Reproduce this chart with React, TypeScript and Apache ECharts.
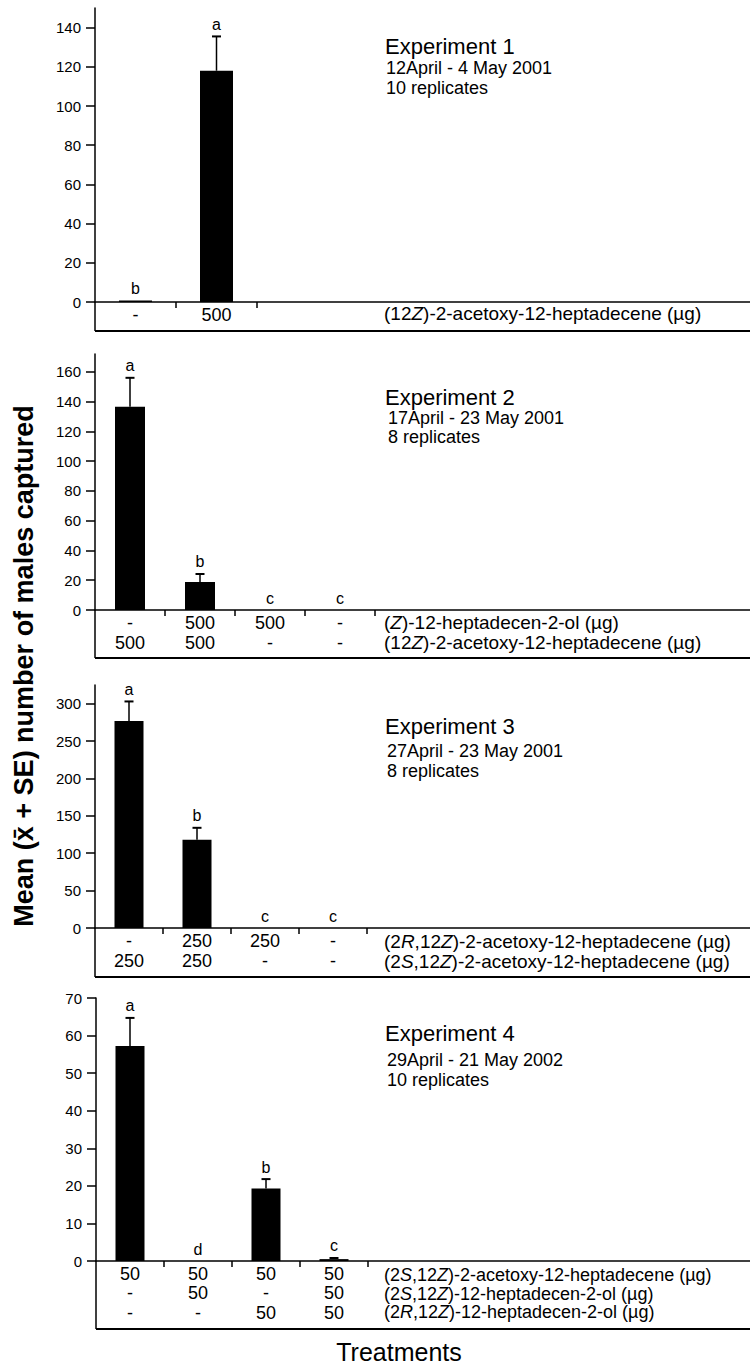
import React, { useEffect, useRef } from "react";
import * as echarts from "echarts";

// ---------- data ----------
const expTitles = ["Experiment 1", "Experiment 2", "Experiment 3", "Experiment 4"];
const expDates = ["12April - 4 May 2001", "17April - 23 May 2001", "27April - 23 May 2001", "29April - 21 May 2002"];
const expReps = ["10 replicates", "8 replicates", "8 replicates", "10 replicates"];

const exp1Means = [0.8, 118];
const exp1SE = [0, 17.5];
const exp1Letters = ["b", "a"];
const exp1Doses = [["-", "500"]];
const exp1Compounds = ["(12Z)-2-acetoxy-12-heptadecene (µg)"];

const exp2Means = [136.5, 18.8, 0, 0];
const exp2SE = [19.5, 5.4, 0, 0];
const exp2Letters = ["a", "b", "c", "c"];
const exp2Doses = [["-", "500", "500", "-"], ["500", "500", "-", "-"]];
const exp2Compounds = ["(Z)-12-heptadecen-2-ol (µg)", "(12Z)-2-acetoxy-12-heptadecene (µg)"];

const exp3Means = [277, 118, 0, 0];
const exp3SE = [26, 16, 0, 0];
const exp3Letters = ["a", "b", "c", "c"];
const exp3Doses = [["-", "250", "250", "-"], ["250", "250", "-", "-"]];
const exp3Compounds = ["(2R,12Z)-2-acetoxy-12-heptadecene (µg)", "(2S,12Z)-2-acetoxy-12-heptadecene (µg)"];

const exp4Means = [57.2, 0, 19.3, 0.5];
const exp4SE = [7.5, 0, 2.5, 0.3];
const exp4Letters = ["a", "d", "b", "c"];
const exp4Doses = [["50", "50", "50", "50"], ["-", "50", "-", "50"], ["-", "-", "50", "50"]];
const exp4Compounds = [
  "(2S,12Z)-2-acetoxy-12-heptadecene (µg)",
  "(2S,12Z)-12-heptadecen-2-ol (µg)",
  "(2R,12Z)-12-heptadecen-2-ol (µg)",
];

const yMaxes = [150, 172, 325, 70];
const yTicks = [
  [0, 20, 40, 60, 80, 100, 120, 140],
  [0, 20, 40, 60, 80, 100, 120, 140, 160],
  [0, 50, 100, 150, 200, 250, 300],
  [0, 10, 20, 30, 40, 50, 60, 70],
];
const yTitle = "Mean (x\u0304 + SE) number of males captured";
const xTitle = "Treatments";

// ---------- layout ----------
const FONT = "'Liberation Sans', Arial, Helvetica, sans-serif";
const W = 750;
const panels = [
  { means: exp1Means, se: exp1SE, letters: exp1Letters, doses: exp1Doses, compounds: exp1Compounds,
    left: 95, top: 8, height: 294, catW: 81, barW: 33, boxBottom: 331, rowH: 20, compFont: 19,
    titleY: 46, dateY: 68, repY: 88, textX: 385, subX: 386, compY: [313] },
  { means: exp2Means, se: exp2SE, letters: exp2Letters, doses: exp2Doses, compounds: exp2Compounds,
    left: 95, top: 354, height: 256, catW: 70, barW: 30, boxBottom: 658, rowH: 20, compFont: 19,
    titleY: 397, dateY: 418, repY: 437, textX: 385, subX: 388, compY: [622, 642] },
  { means: exp3Means, se: exp3SE, letters: exp3Letters, doses: exp3Doses, compounds: exp3Compounds,
    left: 95, top: 685, height: 243, catW: 68, barW: 29, boxBottom: 977, rowH: 20, compFont: 19,
    titleY: 726, dateY: 751, repY: 771, textX: 385, subX: 387, compY: [941, 961] },
  { means: exp4Means, se: exp4SE, letters: exp4Letters, doses: exp4Doses, compounds: exp4Compounds,
    left: 96, top: 998, height: 263, catW: 68, barW: 29, boxBottom: 1329, rowH: 19.5, compFont: 18,
    titleY: 1033, dateY: 1060, repY: 1080, textX: 385, subX: 387, compY: [1275, 1293.5, 1312] },
];

const italicize = (s: string) => s.replace(/([(,\d])([RSZ])(?=[,)])/g, "$1{i|$2}");

function buildOption() {
  const grid: any[] = [];
  const xAxis: any[] = [];
  const yAxis: any[] = [];
  const series: any[] = [];
  const graphic: any[] = [];

  panels.forEach((p, k) => {
    const xMax = (W - p.left) / p.catW;
    grid.push({ left: p.left, right: 0, top: p.top, height: p.height, containLabel: false, outerBoundsMode: "none" });
    xAxis.push({
      type: "value",
      gridIndex: k,
      min: 0,
      max: xMax,
      splitLine: { show: false },
      axisLine: { show: true, lineStyle: { color: "#000", width: 1.5 } },
      axisTick: {
        show: true,
        length: 6,
        lineStyle: { color: "#000", width: 1.5 },
        customValues: p.means.map((_, i) => i + 1),
      },
      axisLabel: {
        show: true,
        customValues: p.means.map((_, i) => i + 0.5),
        formatter: (v: number) => {
          const idx = Math.floor(v);
          return p.doses.map((r) => r[idx] ?? "").join("\n");
        },
        color: "#000",
        fontFamily: FONT,
        fontSize: 18,
        lineHeight: p.rowH,
        margin: 3,
      },
    });
    yAxis.push({
      type: "value",
      gridIndex: k,
      min: 0,
      max: yMaxes[k],
      splitLine: { show: false },
      axisLine: { show: true, lineStyle: { color: "#000", width: 1.5 } },
      axisTick: { show: true, length: 9, lineStyle: { color: "#000", width: 1.5 }, customValues: yTicks[k] },
      axisLabel: {
        show: true,
        customValues: yTicks[k],
        color: "#000",
        fontFamily: FONT,
        fontSize: 15,
        margin: 14,
      },
    });
    series.push({
      type: "bar",
      xAxisIndex: k,
      yAxisIndex: k,
      barWidth: p.barW,
      itemStyle: { color: "#000" },
      data: p.means.map((m, i) => [i + 0.5, m]),
      z: 2,
    });
    series.push({
      type: "custom",
      xAxisIndex: k,
      yAxisIndex: k,
      z: 3,
      clip: false,
      data: p.means.map((m, i) => [i + 0.5, m, p.se[i]]),
      renderItem: (params: any, api: any) => {
        const x = api.value(0);
        const m = api.value(1);
        const s = api.value(2);
        const base = api.coord([x, m]);
        const top = api.coord([x, m + s]);
        const children: any[] = [];
        if (s > 0) {
          children.push({
            type: "line",
            shape: { x1: base[0], y1: base[1], x2: top[0], y2: top[1] },
            style: { stroke: "#000", lineWidth: 1.5 },
          });
          children.push({
            type: "line",
            shape: { x1: top[0] - 4.5, y1: top[1], x2: top[0] + 4.5, y2: top[1] },
            style: { stroke: "#000", lineWidth: 2 },
          });
        }
        children.push({
          type: "text",
          style: {
            text: p.letters[params.dataIndex],
            x: top[0],
            y: top[1] - 4,
            textAlign: "center",
            align: "center",
            textVerticalAlign: "bottom",
            verticalAlign: "bottom",
            fontSize: 16,
            fontFamily: FONT,
            fill: "#000",
          },
        });
        return { type: "group", children };
      },
    });

    const zeroY = p.top + p.height;
    graphic.push({
      type: "line",
      shape: { x1: p.left, y1: zeroY, x2: p.left, y2: p.boxBottom },
      style: { stroke: "#000", lineWidth: 1.5 },
    });
    graphic.push({
      type: "line",
      shape: { x1: p.left, y1: p.boxBottom, x2: W, y2: p.boxBottom },
      style: { stroke: "#000", lineWidth: 2 },
    });
    graphic.push({
      type: "text",
      x: p.textX,
      y: p.titleY,
      style: { text: expTitles[k], fontSize: 22, lineHeight: 22, fontFamily: FONT, fill: "#000", textVerticalAlign: "middle", verticalAlign: "middle" },
    });
    graphic.push({
      type: "text",
      x: p.subX,
      y: p.dateY,
      style: { text: expDates[k], fontSize: 18, lineHeight: 16, fontFamily: FONT, fill: "#000", textVerticalAlign: "middle", verticalAlign: "middle" },
    });
    graphic.push({
      type: "text",
      x: p.subX,
      y: p.repY,
      style: { text: expReps[k], fontSize: 18, lineHeight: 16, fontFamily: FONT, fill: "#000", textVerticalAlign: "middle", verticalAlign: "middle" },
    });
    p.compounds.forEach((c, r) => {
      graphic.push({
        type: "text",
        x: 384,
        y: p.compY[r],
        style: {
          text: italicize(c),
          fontSize: p.compFont,
          lineHeight: 18,
          fontFamily: FONT,
          fill: "#000",
          textVerticalAlign: "middle",
          verticalAlign: "middle",
          rich: { i: { fontStyle: "italic", fontSize: p.compFont, lineHeight: 18, fontFamily: FONT, fill: "#000" } },
        },
      });
    });
  });

  graphic.push({
    type: "text",
    x: 24,
    y: 666,
    rotation: Math.PI / 2,
    style: {
      text: yTitle,
      fontSize: 27,
      fontWeight: "bold",
      fontFamily: FONT,
      fill: "#000",
      textAlign: "center",
      align: "center",
      textVerticalAlign: "middle",
      verticalAlign: "middle",
    },
  });
  graphic.push({
    type: "text",
    x: 399,
    y: 1352,
    style: {
      text: xTitle,
      fontSize: 25,
      fontFamily: FONT,
      fill: "#000",
      textAlign: "center",
      align: "center",
      textVerticalAlign: "middle",
      verticalAlign: "middle",
    },
  });

  return {
    animation: false,
    backgroundColor: "#fff",
    grid,
    xAxis,
    yAxis,
    series,
    graphic,
  };
}

export default function App() {
  const ref = useRef<HTMLDivElement>(null);
  useEffect(() => {
    if (!ref.current) return;
    const chart = echarts.init(ref.current, undefined, { renderer: "svg" });
    chart.setOption(buildOption() as any);
    return () => chart.dispose();
  }, []);
  return (
    <div
      ref={ref}
      style={{ position: "absolute", left: 0, top: 0, width: 750, height: 1368, background: "#fff" }}
    />
  );
}
